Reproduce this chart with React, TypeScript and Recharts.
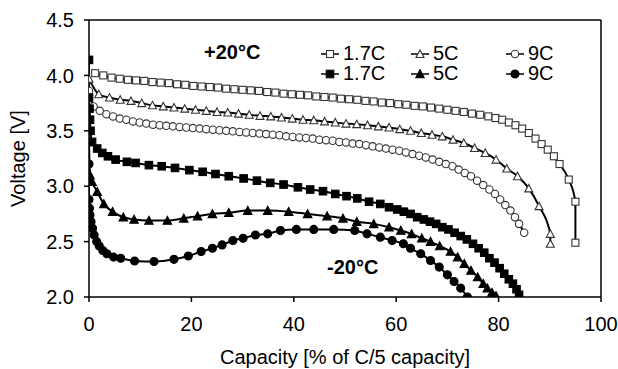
import { Label, Line, LineChart, ReferenceLine, XAxis, YAxis } from "recharts";

type Pt = [number, number];

// +20°C (open markers)
const warm17: Pt[] = [
  [1.2, 4.02], [2.8, 4.0], [4.4, 3.98], [6.0, 3.97], [7.6, 3.96], [9.2, 3.955], [10.8, 3.95], [12.4, 3.94],
  [14.0, 3.935], [15.6, 3.93], [17.2, 3.92], [18.8, 3.915], [20.4, 3.905], [22.0, 3.9], [23.6, 3.895],
  [25.2, 3.89], [26.8, 3.88], [28.4, 3.875], [30.0, 3.87], [31.6, 3.865], [33.2, 3.86], [34.8, 3.85],
  [36.4, 3.845], [38.0, 3.835], [39.6, 3.83], [41.2, 3.825], [42.8, 3.82], [44.4, 3.81], [46.0, 3.805],
  [47.6, 3.8], [49.2, 3.79], [50.8, 3.785], [52.4, 3.78], [54.0, 3.77], [55.6, 3.765], [57.2, 3.755],
  [58.8, 3.75], [60.4, 3.74], [62.0, 3.735], [63.6, 3.725], [65.2, 3.72], [66.8, 3.71], [68.4, 3.7],
  [70.0, 3.69], [71.6, 3.68], [73.2, 3.67], [74.8, 3.655], [76.4, 3.645], [78.0, 3.63], [79.4, 3.615],
  [80.7, 3.6], [82.0, 3.575], [83.3, 3.55], [84.6, 3.52], [85.9, 3.48], [87.2, 3.43], [88.4, 3.38],
  [89.6, 3.33], [90.8, 3.27], [91.9, 3.2], [93.7, 3.06], [95.0, 2.86], [95.0, 2.49],
];

const warm5: Pt[] = [
  [0, 3.97], [1.9, 3.83], [4.0, 3.8], [6.1, 3.78], [8.2, 3.77], [10.3, 3.75], [12.4, 3.73], [14.5, 3.72],
  [16.6, 3.71], [18.7, 3.7], [20.8, 3.69], [22.9, 3.68], [25.0, 3.67], [27.1, 3.665], [29.2, 3.655],
  [31.3, 3.645], [33.4, 3.635], [35.5, 3.63], [37.6, 3.62], [39.7, 3.61], [41.8, 3.6], [43.9, 3.595],
  [46.0, 3.585], [48.1, 3.575], [50.2, 3.565], [52.3, 3.56], [54.4, 3.55], [56.5, 3.54], [58.6, 3.53],
  [60.7, 3.515], [62.8, 3.5], [64.9, 3.48], [67.0, 3.465], [69.0, 3.45], [71.1, 3.42], [73.2, 3.39],
  [75.3, 3.345], [77.4, 3.3], [79.5, 3.24], [81.6, 3.16], [83.7, 3.09], [85.9, 2.98], [87.9, 2.82],
  [90.1, 2.57], [90.1, 2.48],
];

const warm9: Pt[] = [
  [0, 3.86], [0.9, 3.72], [2.1, 3.68], [3.4, 3.65], [4.7, 3.63], [6.0, 3.61], [7.3, 3.6], [8.6, 3.585],
  [9.9, 3.575], [11.2, 3.565], [12.5, 3.555], [13.8, 3.55], [15.1, 3.545], [16.4, 3.54], [17.7, 3.535],
  [19.0, 3.53], [20.3, 3.525], [21.6, 3.52], [22.9, 3.515], [24.2, 3.51], [25.5, 3.505], [26.8, 3.5],
  [28.1, 3.495], [29.4, 3.49], [30.7, 3.485], [32.0, 3.48], [33.3, 3.475], [34.6, 3.47], [35.9, 3.465],
  [37.2, 3.46], [38.5, 3.45], [39.8, 3.445], [41.1, 3.44], [42.4, 3.435], [43.7, 3.43], [45.0, 3.42],
  [46.3, 3.415], [47.6, 3.41], [48.9, 3.4], [50.2, 3.395], [51.5, 3.385], [52.8, 3.38], [54.1, 3.37],
  [55.4, 3.36], [56.7, 3.35], [58.0, 3.34], [59.3, 3.33], [60.6, 3.32], [61.9, 3.305], [63.2, 3.29],
  [64.5, 3.275], [65.8, 3.26], [67.1, 3.24], [68.4, 3.22], [69.7, 3.2], [71.0, 3.18], [72.2, 3.15],
  [73.4, 3.12], [74.6, 3.09], [75.8, 3.05], [77.0, 3.01], [78.2, 2.97], [79.3, 2.93], [80.3, 2.88],
  [81.3, 2.83], [82.3, 2.78], [83.2, 2.72], [84.0, 2.66], [85.0, 2.58],
];

// -20°C (filled markers)
const cold17: Pt[] = [
  [0, 4.14], [0, 3.8], [0.1, 3.7], [0.2, 3.6], [0.3, 3.5], [0.6, 3.4], [1.6, 3.34], [2.6, 3.3], [3.7, 3.27],
  [5.2, 3.24], [7.4, 3.22], [9.1, 3.21], [11.7, 3.19], [14.2, 3.18], [16.8, 3.165], [19.6, 3.145],
  [22.2, 3.13], [24.7, 3.11], [27.3, 3.09], [30.2, 3.07], [32.8, 3.05], [35.4, 3.03], [38.0, 3.015],
  [40.8, 2.99], [43.2, 2.97], [45.7, 2.955], [48.1, 2.93], [50.3, 2.91], [52.4, 2.89], [54.7, 2.86],
  [56.9, 2.84], [58.6, 2.81], [60.2, 2.79], [61.5, 2.77], [62.8, 2.75], [64.1, 2.72], [65.4, 2.7],
  [66.6, 2.68], [67.8, 2.66], [69.0, 2.63], [70.2, 2.61], [71.4, 2.58], [72.6, 2.55], [73.8, 2.52],
  [75.0, 2.48], [76.1, 2.44], [77.2, 2.4], [78.2, 2.35], [79.2, 2.31], [80.2, 2.26], [81.1, 2.21],
  [82.0, 2.16], [82.8, 2.12], [83.5, 2.07], [84.0, 2.02],
];

const cold5: Pt[] = [
  [0, 3.4], [0.2, 3.1], [0.6, 3.04], [1.6, 2.95], [2.9, 2.84], [4.6, 2.77], [6.7, 2.72], [8.8, 2.7],
  [11.7, 2.69], [15.3, 2.69], [18.5, 2.71], [21.2, 2.73], [24.1, 2.75], [27.3, 2.76], [31.0, 2.78],
  [34.9, 2.78], [39.0, 2.77], [42.7, 2.75], [46.5, 2.73], [49.6, 2.71], [52.3, 2.68], [55.6, 2.66],
  [58.6, 2.63], [60.9, 2.6], [63.0, 2.57], [65.0, 2.53], [66.7, 2.5], [68.5, 2.46], [70.6, 2.41],
  [72.0, 2.36], [73.3, 2.3], [74.6, 2.24], [75.9, 2.18], [77.0, 2.12], [77.8, 2.08], [78.7, 2.04],
  [79.5, 2.01],
];

const cold9: Pt[] = [
  [0, 3.2], [0, 2.88], [0.1, 2.8], [0.2, 2.74], [0.4, 2.68], [0.7, 2.62], [1.0, 2.56], [1.5, 2.5],
  [2.0, 2.46], [2.7, 2.42], [3.5, 2.39], [4.8, 2.36], [6.2, 2.35], [8.9, 2.325], [12.7, 2.32],
  [16.6, 2.34], [19.4, 2.37], [21.9, 2.41], [24.1, 2.44], [26.0, 2.47], [28.1, 2.51], [30.1, 2.53],
  [32.5, 2.56], [34.9, 2.57], [37.4, 2.6], [40.5, 2.61], [43.9, 2.61], [47.8, 2.61], [51.9, 2.6],
  [54.3, 2.57], [56.9, 2.54], [59.2, 2.51], [61.4, 2.48], [62.8, 2.44], [64.8, 2.39], [66.7, 2.33],
  [68.4, 2.27], [70.0, 2.2], [71.3, 2.14], [72.6, 2.08], [73.9, 2.0],
];

const xTicks = [0, 20, 40, 60, 80, 100];
const yTicks = [2.0, 2.5, 3.0, 3.5, 4.0, 4.5];
const rateLabels = ["1.7C", "5C", "9C"];

const FONT = "'Liberation Sans', Arial, sans-serif";
const toRows = (pts: Pt[]) => pts.map(([x, y]) => ({ x, y }));

type Shape = "square" | "triangle" | "circle";

function Marker({ cx, cy, shape, filled }: { cx: number; cy: number; shape: Shape; filled: boolean }) {
  const fill = filled ? "#000" : "#fff";
  const stroke = filled ? "#000" : "#333";
  if (shape === "square") {
    const s = filled ? 7.5 : 7;
    return <rect x={cx - s / 2} y={cy - s / 2} width={s} height={s} fill={fill} stroke={stroke} strokeWidth={1.1} />;
  }
  if (shape === "triangle") {
    const h = filled ? 7.5 : 7;
    const w = filled ? 8.5 : 8;
    return (
      <path
        d={`M${cx},${cy - h / 2 - 0.5} L${cx + w / 2},${cy + h / 2} L${cx - w / 2},${cy + h / 2} Z`}
        fill={fill}
        stroke={stroke}
        strokeWidth={1.1}
      />
    );
  }
  return <circle cx={cx} cy={cy} r={filled ? 4 : 3.7} fill={fill} stroke={stroke} strokeWidth={1.1} />;
}

const dotFor = (shape: Shape, filled: boolean) => (props: any) => {
  const { cx, cy, index } = props;
  if (cx == null || cy == null) return <g key={index} />;
  return (
    <g key={`${shape}-${filled}-${index}`}>
      <Marker cx={cx} cy={cy} shape={shape} filled={filled} />
    </g>
  );
};

const series: { name: string; pts: Pt[]; shape: Shape; filled: boolean }[] = [
  { name: "warm17", pts: warm17, shape: "square", filled: false },
  { name: "warm5", pts: warm5, shape: "triangle", filled: false },
  { name: "warm9", pts: warm9, shape: "circle", filled: false },
  { name: "cold17", pts: cold17, shape: "square", filled: true },
  { name: "cold5", pts: cold5, shape: "triangle", filled: true },
  { name: "cold9", pts: cold9, shape: "circle", filled: true },
];

const legendCols = [320, 410, 505];
const legendShapes: Shape[] = ["square", "triangle", "circle"];

function LegendBox() {
  return (
    <div style={{ position: "absolute", left: 0, top: 0, width: 618, height: 369, pointerEvents: "none" }}>
      {[false, true].map((filled, row) =>
        legendShapes.map((shape, col) => (
          <div
            key={`${row}-${col}`}
            style={{
              position: "absolute",
              left: legendCols[col],
              top: 44 + row * 20,
              height: 19,
              display: "flex",
              alignItems: "center",
              fontFamily: FONT,
              fontSize: 20,
              lineHeight: "19px",
              color: "#000",
            }}
          >
            <svg width={20} height={12} style={{ marginRight: 3 }}>
              <line x1={1} y1={6} x2={19} y2={6} stroke="#000" strokeWidth={1.5} />
              <Marker cx={10} cy={6} shape={shape} filled={filled} />
            </svg>
            <span>{rateLabels[col]}</span>
          </div>
        ))
      )}
      <div
        style={{
          position: "absolute",
          left: 204,
          top: 41,
          fontFamily: FONT,
          fontSize: 20,
          fontWeight: "bold",
          lineHeight: "22px",
        }}
      >
        +20°C
      </div>
      <div
        style={{
          position: "absolute",
          left: 327,
          top: 256,
          fontFamily: FONT,
          fontSize: 20,
          fontWeight: "bold",
          lineHeight: "22px",
        }}
      >
        -20°C
      </div>
    </div>
  );
}

export default function App() {
  const tickStyle = { fill: "#000", fontSize: 20, fontFamily: FONT };
  return (
    <div style={{ position: "absolute", left: 0, top: 0, width: 618, height: 369, background: "#fff" }}>
      <LineChart width={618} height={369} margin={{ top: 20, right: 17, bottom: 0, left: 0 }}>
        <XAxis
          dataKey="x"
          type="number"
          domain={[0, 100]}
          ticks={xTicks}
          height={72}
          tick={tickStyle}
          tickSize={5}
          tickMargin={15}
          stroke="#000"
          strokeWidth={1.5}
          allowDataOverflow
        >
          <Label
            value="Capacity [% of C/5 capacity]"
            position="insideBottom"
            offset={5}
            style={{ fill: "#000", fontSize: 20, fontFamily: FONT }}
          />
        </XAxis>
        <YAxis
          type="number"
          domain={[2, 4.5]}
          ticks={yTicks}
          width={89}
          tick={tickStyle}
          tickSize={5}
          tickMargin={10}
          tickFormatter={(v: number) => v.toFixed(1)}
          stroke="#000"
          strokeWidth={1.5}
          allowDataOverflow
        >
          <Label
            value="Voltage [V]"
            angle={-90}
            position="insideLeft"
            offset={18}
            style={{ fill: "#000", fontSize: 20, fontFamily: FONT, textAnchor: "middle" }}
          />
        </YAxis>
        <ReferenceLine y={4.5} stroke="#000" strokeWidth={1.5} />
        <ReferenceLine x={100} stroke="#000" strokeWidth={1.5} />
        {series.map((s) => (
          <Line
            key={s.name}
            data={toRows(s.pts)}
            dataKey="y"
            type="monotone"
            stroke="#000"
            strokeWidth={2}
            dot={dotFor(s.shape, s.filled)}
            activeDot={false}
            isAnimationActive={false}
          />
        ))}
      </LineChart>
      <LegendBox />
    </div>
  );
}
